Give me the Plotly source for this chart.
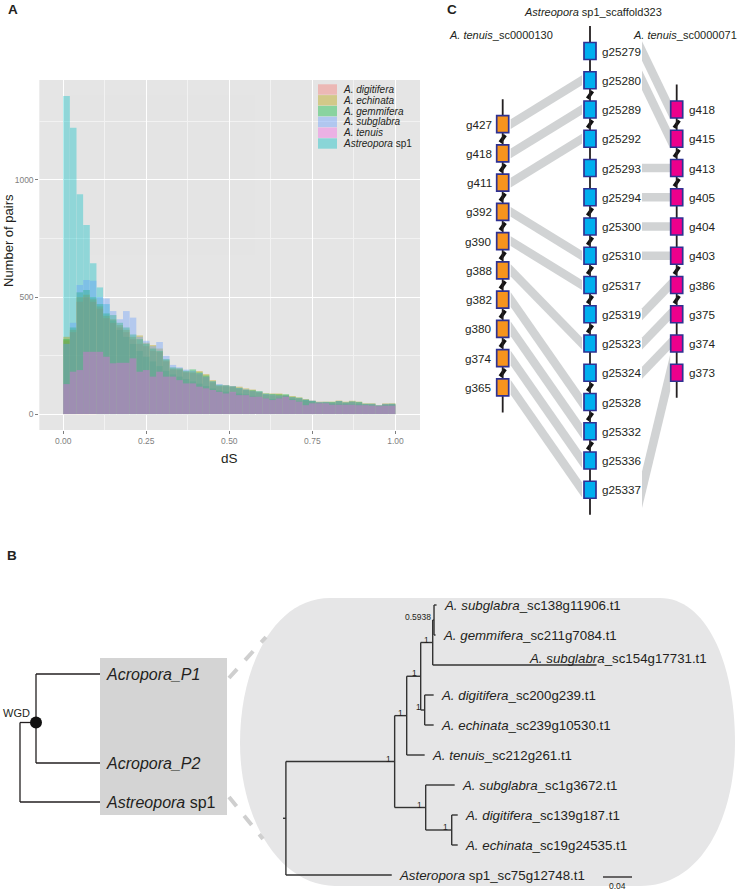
import plotly.graph_objects as go

W, H = 740, 892
FONT = "Liberation Sans, Arial, Helvetica, sans-serif"

# ---------------- Panel A data (histogram of dS) ----------------
species = ["A. digitifera", "A. echinata", "A. gemmifera", "A. subglabra", "A. tenuis", "Astreopora sp1"]
species_html = ["<i>A. digitifera</i>", "<i>A. echinata</i>", "<i>A. gemmifera</i>",
                "<i>A. subglabra</i>", "<i>A. tenuis</i>", "<i>Astreopora</i> sp1"]
species_colors = ["#F8766D", "#B79F00", "#00BA38", "#619CFF", "#F564E3", "#00BFC4"]
draw_order = ["Astreopora sp1", "A. digitifera", "A. echinata", "A. gemmifera", "A. subglabra", "A. tenuis"]
bin_width = 0.02
n_bins = 50
bin_centers = [round(bin_width * (i + 0.5), 3) for i in range(n_bins)]

counts_digitifera = [315, 350, 480, 500, 480, 450, 410, 390, 370, 350, 320, 300, 290, 270, 265, 225, 190, 188, 178, 175,
                     170, 158, 135, 118, 118, 115, 108, 102, 98, 92, 82, 80, 80, 78, 70, 66, 58, 54, 50, 50,
                     48, 54, 48, 52, 48, 42, 42, 36, 42, 42]
counts_echinata = [330, 360, 500, 510, 490, 460, 420, 405, 380, 360, 330, 336, 305, 295, 280, 230, 195, 195, 182, 182,
                   184, 171, 145, 122, 124, 120, 117, 110, 105, 95, 88, 88, 88, 82, 77, 71, 64, 58, 53, 53,
                   53, 58, 53, 57, 53, 46, 46, 38, 46, 46]
counts_gemmifera = [320, 370, 520, 530, 500, 470, 430, 423, 390, 370, 340, 320, 300, 280, 270, 235, 200, 195, 185, 191,
                    178, 165, 140, 125, 122, 118, 112, 104, 102, 98, 88, 86, 85, 85, 74, 70, 62, 56, 50, 52,
                    52, 56, 50, 54, 52, 44, 44, 36, 42, 44]
counts_subglabra = [300, 390, 551, 573, 570, 500, 494, 440, 405, 440, 412, 330, 313, 290, 308, 249, 210, 200, 190, 185,
                    175, 160, 140, 128, 124, 120, 112, 106, 100, 96, 86, 84, 80, 80, 72, 68, 62, 58, 52, 52,
                    50, 56, 50, 54, 50, 44, 44, 38, 44, 44]
counts_tenuis = [128, 181, 188, 266, 266, 266, 245, 217, 219, 219, 238, 181, 188, 160, 181, 160, 160, 145, 131, 131,
                 117, 110, 103, 95, 88, 95, 81, 81, 74, 74, 67, 60, 67, 74, 60, 53, 38, 46, 46, 46,
                 40, 40, 40, 40, 38, 38, 36, 34, 36, 36]
counts_astreopora = [1359, 1223, 939, 808, 644, 541, 470, 400, 360, 330, 300, 270, 245, 225, 205, 185, 170, 160, 150, 140,
                     130, 120, 110, 100, 96, 92, 88, 84, 78, 74, 68, 64, 70, 78, 64, 55, 60, 56, 48, 46,
                     45, 44, 44, 42, 42, 40, 38, 36, 40, 40]
species_counts = [counts_digitifera, counts_echinata, counts_gemmifera,
                  counts_subglabra, counts_tenuis, counts_astreopora]
x_ticks = [0.0, 0.25, 0.5, 0.75, 1.0]
x_tick_text = ["0.00", "0.25", "0.50", "0.75", "1.00"]
y_ticks = [0, 500, 1000]

# ---------------- Panel B data (trees) ----------------
species_tree_tips = ["<i>Acropora_P1</i>", "<i>Acropora_P2</i>", "<i>Astreopora</i> sp1"]
species_tree_node_label = "WGD"

# gene tree: ("node", support, branch_length, children) / ("tip", name, branch_length)
gene_tree = ("node", "", 0.004, [
    ("node", "1", 0.150, [
        ("node", "1", 0.0166, [
            ("node", "1", 0.0193, [
                ("node", "1", 0.0166, [
                    ("node", "0.5938", 0.0018, [
                        ("tip", "A. subglabra_sc138g11906.t1", 0.0035),
                        ("tip", "A. gemmifera_sc211g7084.t1", 0.0021)]),
                    ("tip", "A. subglabra_sc154g17731.t1", 0.226)]),
                ("node", "1", 0.0055, [
                    ("tip", "A. digitifera_sc200g239.t1", 0.0124),
                    ("tip", "A. echinata_sc239g10530.t1", 0.0124)])]),
            ("tip", "A. tenuis_sc212g261.t1", 0.0248)]),
        ("node", "1", 0.0428, [
            ("tip", "A. subglabra_sc1g3672.t1", 0.0400),
            ("node", "1", 0.0359, [
                ("tip", "A. digitifera_sc139g187.t1", 0.0083),
                ("tip", "A. echinata_sc19g24535.t1", 0.0083)])])]),
    ("tip", "Asteropora sp1_sc75g12748.t1", 0.146)])
scale_bar_value = 0.04

# ---------------- Panel C data (synteny) ----------------
left_title = "<i>A. tenuis</i>_sc0000130"
mid_title = "<i>Astreopora</i> sp1_scaffold323"
right_title = "<i>A. tenuis</i>_sc0000071"
left_genes = ["g427", "g418", "g411", "g392", "g390", "g388", "g382", "g380", "g374", "g365"]
mid_genes = ["g25279", "g25280", "g25289", "g25292", "g25293", "g25294", "g25300", "g25310",
             "g25317", "g25319", "g25323", "g25324", "g25328", "g25332", "g25336", "g25337"]
right_genes = ["g418", "g415", "g413", "g405", "g404", "g403", "g386", "g375", "g374", "g373"]
left_links = [("g427", "g25280"), ("g418", "g25289"), ("g411", "g25292"), ("g392", "g25310"),
              ("g390", "g25317"), ("g388", "g25323"), ("g382", "g25328"), ("g380", "g25332"),
              ("g374", "g25336"), ("g365", "g25337")]
right_links = [("g25279", "g418"), ("g25280", "g415"), ("g25293", "g413"), ("g25294", "g405"),
               ("g25300", "g404"), ("g25310", "g403"), ("g25319", "g386"), ("g25323", "g375"),
               ("g25324", "g374"), ("g25337", "g373")]
left_breaks_after = ["g427", "g418", "g411", "g392", "g390", "g388", "g382", "g380", "g374"]
mid_breaks_after = ["g25280", "g25289", "g25294", "g25300", "g25310", "g25317", "g25319",
                    "g25324", "g25328", "g25332"]
right_breaks_after = ["g418", "g415", "g413", "g403", "g386"]

# ======================= styling / layout constants =======================
HIST_ALPHA = 0.37
PANEL_GREY = "#E5E5E5"
TICK_GREY = "#7F7F7F"
HX0, HX1, HY0, HY1 = 39.3, 420.0, 80.0, 430.0  # histogram panel (px)

fig = go.Figure()
shapes = []
ann = []


def A(x, y, text, size=12, xa="center", ya="middle", color="#231F20", angle=0):
    ann.append(dict(x=x, y=y, xref="x2", yref="y2", text=text, showarrow=False,
                    xanchor=xa, yanchor=ya, textangle=angle,
                    font=dict(size=size, color=color, family=FONT)))


# ---------------- Panel A ----------------
shapes.append(dict(type="rect", xref="x domain", yref="y domain", x0=0, x1=1, y0=0, y1=1,
                   fillcolor=PANEL_GREY, line=dict(width=0), layer="below"))
for sp in draw_order:
    k = species.index(sp)
    fig.add_trace(go.Bar(x=bin_centers, y=species_counts[k], width=bin_width, name=sp,
                         marker=dict(color=species_colors[k], line=dict(width=0)), opacity=HIST_ALPHA,
                         showlegend=False, hoverinfo="skip", xaxis="x", yaxis="y"))

# manual ggplot-like legend
LEG_X0, LEG_Y0, LEG_DY = 318.0, 89.5, 10.8
for i, (lab, col) in enumerate(zip(species_html, species_colors)):
    yc = LEG_Y0 + i * LEG_DY
    shapes.append(dict(type="rect", xref="x2", yref="y2", x0=LEG_X0, x1=LEG_X0 + 19,
                       y0=yc - 5.2, y1=yc + 5.2, fillcolor=col, opacity=HIST_ALPHA + 0.03,
                       line=dict(width=0)))
    A(LEG_X0 + 23, yc, lab, size=10, xa="left")

A(8, 241, "Number of pairs", size=13, angle=-90)
A((HX0 + HX1) / 2, 458, "dS", size=13.5)
A(13, 9, "<b>A</b>", size=13.5)
A(12, 555, "<b>B</b>", size=13.5)
A(452, 9, "<b>C</b>", size=13.5)

# ---------------- Panel C ----------------
SLOT0_Y, SLOT_H = 51.0, 29.25
BOX_W, BOX_H = 12.0, 17.0
tracks = {
    "left": dict(genes=left_genes, x=502.7, offset=2.5, color="#F7941D", breaks=left_breaks_after),
    "mid": dict(genes=mid_genes, x=590.0, offset=0.0, color="#00AEEF", breaks=mid_breaks_after),
    "right": dict(genes=right_genes, x=676.7, offset=2.0, color="#EC008C", breaks=right_breaks_after),
}


def gy(track, gene):
    t = tracks[track]
    return SLOT0_Y + (t["offset"] + t["genes"].index(gene)) * SLOT_H


RIB_W = 8.5
RIB_COLOR = "#D1D3D4"


def ribbon(xa, ya, xb, yb):
    dx, dy = xb - xa, yb - ya
    L = (dx * dx + dy * dy) ** 0.5
    h = RIB_W / 2 * L / dx
    path = f"M{xa},{ya - h} L{xb},{yb - h} L{xb},{yb + h} L{xa},{ya + h} Z"
    shapes.append(dict(type="path", xref="x2", yref="y2", path=path, fillcolor=RIB_COLOR,
                       line=dict(width=0), layer="below"))


for lg, mg in left_links:
    ribbon(tracks["left"]["x"] + 8, gy("left", lg), tracks["mid"]["x"] - 8, gy("mid", mg))
for mg, rg in right_links:
    ribbon(tracks["mid"]["x"] + 52, gy("mid", mg), tracks["right"]["x"] - 6.5, gy("right", rg))

brk_x, brk_y = [], []
for name, t in tracks.items():
    tx = t["x"]
    ys = [gy(name, g) for g in t["genes"]]
    shapes.append(dict(type="line", xref="x2", yref="y2", x0=tx, x1=tx, y0=ys[0] - 25, y1=ys[-1] + 25,
                       line=dict(color="#231F20", width=1.8)))
    for g in t["breaks"]:
        yb = gy(name, g) + SLOT_H / 2
        brk_x += [tx - 2.6, tx + 2.6, None]
        brk_y += [yb + 3.6, yb - 3.6, None]
    for g, y in zip(t["genes"], ys):
        shapes.append(dict(type="rect", xref="x2", yref="y2", x0=tx - BOX_W / 2, x1=tx + BOX_W / 2,
                           y0=y - BOX_H / 2, y1=y + BOX_H / 2, fillcolor=t["color"],
                           line=dict(color="#2E3192", width=1.7)))
        if name == "left":
            A(tx - 9, y, g, size=11.7, xa="right")
        else:
            A(tx + 10, y, g, size=11.7, xa="left")

fig.add_trace(go.Scatter(x=brk_x, y=brk_y, mode="lines", line=dict(color="#111111", width=3.6),
                         hoverinfo="skip", showlegend=False, xaxis="x2", yaxis="y2"))

A(592.5, 12, mid_title, size=11)
A(501, 35, left_title, size=11)
A(739, 35, right_title, size=11, xa="right")

# ---------------- Panel B ----------------
GX0, GX1, GY0, GY1, GYM = 240, 735, 598, 886, 743
bg_path = (f"M330,{GY0} L660,{GY0} C705,{GY0} {GX1},660 {GX1},{GYM} "
           f"C{GX1},812 705,{GY1} 640,{GY1} L335,{GY1} C280,{GY1} {GX0},820 {GX0},{GYM} "
           f"C{GX0},665 275,{GY0} 330,{GY0} Z")
shapes.append(dict(type="path", xref="x2", yref="y2", path=bg_path, fillcolor="#E6E6E7",
                   line=dict(width=0), layer="below"))
shapes.append(dict(type="rect", xref="x2", yref="y2", x0=100, x1=227, y0=658, y1=815,
                   fillcolor="#D4D4D4", line=dict(width=0), layer="below"))
shapes.append(dict(type="line", xref="x2", yref="y2", x0=229, y0=678, x1=266, y1=637,
                   line=dict(color="#CFCFCF", width=4, dash="dash")))
shapes.append(dict(type="line", xref="x2", yref="y2", x0=229, y0=797, x1=263, y1=839,
                   line=dict(color="#CFCFCF", width=4, dash="dash")))

# species tree ((P1,P2)WGD, Astreopora)
SP_TIP_Y = [674, 763, 802]
SP_TIP_X, SP_NODE_X, SP_ROOT_X = 100, 36, 20
wgd_y = (SP_TIP_Y[0] + SP_TIP_Y[1]) / 2 + 4
st_x = [SP_NODE_X, SP_TIP_X, None, SP_NODE_X, SP_TIP_X, None, SP_NODE_X, SP_NODE_X, None,
        SP_ROOT_X, SP_NODE_X, None, SP_ROOT_X, SP_ROOT_X, None, SP_ROOT_X, SP_TIP_X]
st_y = [SP_TIP_Y[0], SP_TIP_Y[0], None, SP_TIP_Y[1], SP_TIP_Y[1], None, SP_TIP_Y[0], SP_TIP_Y[1], None,
        wgd_y, wgd_y, None, wgd_y, SP_TIP_Y[2], None, SP_TIP_Y[2], SP_TIP_Y[2]]
fig.add_trace(go.Scatter(x=st_x, y=st_y, mode="lines", line=dict(color="#231F20", width=1.3),
                         hoverinfo="skip", showlegend=False, xaxis="x2", yaxis="y2"))
fig.add_trace(go.Scatter(x=[SP_NODE_X], y=[wgd_y], mode="markers",
                         marker=dict(color="#111111", size=12), hoverinfo="skip",
                         showlegend=False, xaxis="x2", yaxis="y2"))
A(SP_NODE_X - 4, wgd_y - 10, species_tree_node_label, size=11, xa="right")
for lab, y in zip(species_tree_tips, SP_TIP_Y):
    A(SP_TIP_X + 4, y, lab, size=16, xa="left")

# gene tree
TREE_X0, TREE_SCALE = 283.0, 725.0
TIP_Y0, TIP_DY = 605.0, 30.0
segs_x, segs_y, supports, tips = [], [], [], []


def seg(x0, y0, x1, y1):
    segs_x.extend([x0, x1, None])
    segs_y.extend([y0, y1, None])


def place(node, x_parent):
    x = x_parent + node[2] * TREE_SCALE
    if node[0] == "tip":
        y = TIP_Y0 + len(tips) * TIP_DY
        tips.append((node[1], x, y))
        seg(x_parent, y, x, y)
        return y
    ys = [place(c, x) for c in node[3]]
    y = (ys[0] + ys[-1]) / 2
    seg(x, ys[0], x, ys[-1])
    seg(x_parent, y, x, y)
    if node[1]:
        supports.append((node[1], x, y))
    return y


place(gene_tree, TREE_X0)
fig.add_trace(go.Scatter(x=segs_x, y=segs_y, mode="lines", line=dict(color="#333333", width=1.4),
                         hoverinfo="skip", showlegend=False, xaxis="x2", yaxis="y2"))
for s, x, y in supports:
    A(x - 1.5, y - 3, s, size=8.5, xa="right")

label_shift = {"A. subglabra_sc154g17731.t1": (-75, -7)}
for name, x, y in tips:
    sp, rest = name.split("_", 1)
    if sp.endswith(" sp1"):
        html = f"<i>{sp[:-4]}</i> sp1_{rest}"
    else:
        html = f"<i>{sp}</i>_{rest}"
    dx, dy = label_shift.get(name, (0, 0))
    A(x + 5 + dx, y + dy, html, size=13.3, xa="left")

# scale bar
SB_X, SB_Y = 603.0, 877.0
shapes.append(dict(type="line", xref="x2", yref="y2", x0=SB_X, x1=SB_X + scale_bar_value * TREE_SCALE,
                   y0=SB_Y, y1=SB_Y, line=dict(color="#231F20", width=1.3)))
A(SB_X + scale_bar_value * TREE_SCALE / 2, 879, f"{scale_bar_value:.2f}", size=8.5, ya="top")

# ---------------- layout ----------------
axis_font = dict(size=8.5, color=TICK_GREY, family=FONT)
fig.update_layout(
    width=W, height=H, margin=dict(l=0, r=0, t=0, b=0),
    paper_bgcolor="white", plot_bgcolor="rgba(0,0,0,0)",
    barmode="overlay", showlegend=False, font=dict(family=FONT),
    xaxis=dict(domain=[HX0 / W, HX1 / W], range=[-0.072, 1.074], anchor="y",
               tickmode="array", tickvals=x_ticks, ticktext=x_tick_text,
               showgrid=True, gridcolor="white", gridwidth=1.1, zeroline=False,
               ticks="outside", ticklen=3, tickcolor=TICK_GREY, tickfont=axis_font,
               minor=dict(tickvals=[0.125, 0.375, 0.625, 0.875], showgrid=True,
                          gridcolor="#F2F2F2", gridwidth=0.6, ticks=""),
               showline=False, fixedrange=True),
    yaxis=dict(domain=[1 - HY1 / H, 1 - HY0 / H], range=[-68, 1427], anchor="x",
               tickmode="array", tickvals=y_ticks,
               showgrid=True, gridcolor="white", gridwidth=1.1, zeroline=False,
               ticks="outside", ticklen=3, tickcolor=TICK_GREY, tickfont=axis_font,
               minor=dict(tickvals=[250, 750, 1250], showgrid=True,
                          gridcolor="#F2F2F2", gridwidth=0.6, ticks=""),
               showline=False, fixedrange=True),
    xaxis2=dict(domain=[0, 1], range=[0, W], visible=False, anchor="y2", fixedrange=True),
    yaxis2=dict(domain=[0, 1], range=[H, 0], visible=False, anchor="x2", fixedrange=True),
    shapes=shapes, annotations=ann,
)

fig.write_html("out.html", config={"displayModeBar": False},
               post_script="document.body.style.margin='0px';")
